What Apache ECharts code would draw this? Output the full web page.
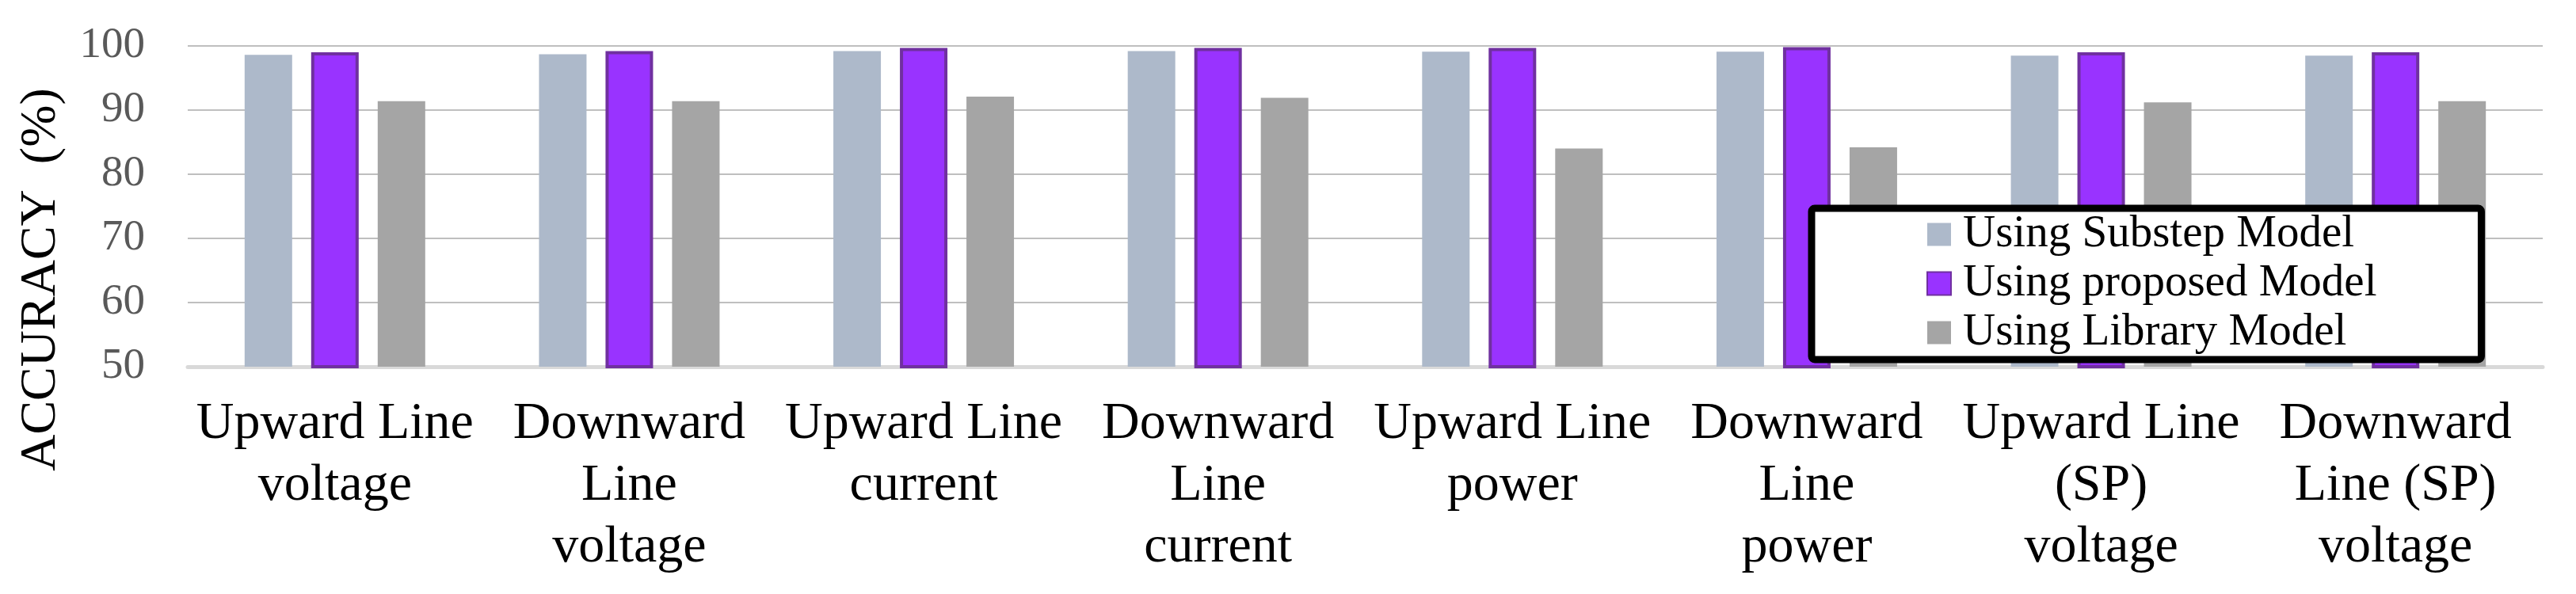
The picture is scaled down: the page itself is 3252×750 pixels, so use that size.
<!DOCTYPE html>
<html>
<head>
<meta charset="utf-8">
<title>Accuracy</title>
<script src="https://cdn.jsdelivr.net/npm/echarts@6/dist/echarts.min.js"></script>
<style>
  html, body { margin: 0; padding: 0; background: #fff; }
  #main { width: 3252px; height: 750px; }
</style>
</head>
<body>
<div id="main"></div>
<script>
// categories on the x axis
const categories = [
  'Upward Line\nvoltage',
  'Downward\nLine\nvoltage',
  'Upward Line\ncurrent',
  'Downward\nLine\ncurrent',
  'Upward Line\npower',
  'Downward\nLine\npower',
  'Upward Line\n(SP)\nvoltage',
  'Downward\nLine (SP)\nvoltage'
];

const seriesNames = ['Using Substep Model', 'Using proposed Model', 'Using Library Model'];

const substep = [98.6, 98.7, 99.2, 99.2, 99.1, 99.1, 98.5, 98.5];
const proposed = [99.0, 99.2, 99.7, 99.7, 99.7, 99.8, 99.0, 99.0];
const library = [91.4, 91.4, 92.1, 91.9, 84.0, 84.2, 91.2, 91.4];

const yTicks = [50, 60, 70, 80, 90, 100];

const serif = 'Liberation Serif';

var chartDom = document.getElementById('main');
var myChart = echarts.init(chartDom, null, { renderer: 'canvas' });
var option;

option = {
  animation: false,
  backgroundColor: '#ffffff',
  grid: {
    left: 237,
    right: 42,
    top: 58,
    bottom: 287
  },
  legend: {
    data: seriesNames,
    orient: 'vertical',
    left: 2287,
    top: 263,
    padding: [2, 132, 3, 145],
    itemGap: 0,
    itemWidth: 30,
    itemHeight: 29,
    icon: 'rect',
    backgroundColor: '#ffffff',
    borderColor: '#000000',
    borderWidth: 9,
    borderRadius: 4,
    textStyle: {
      fontFamily: serif,
      fontSize: 57,
      color: '#000',
      lineHeight: 62,
      padding: [0, 0, 0, 10]
    }
  },
  graphic: [
    {
      type: 'text',
      x: 52,
      y: 353,
      rotation: Math.PI / 2,
      style: {
        text: 'ACCURACY  (%)',
        fontFamily: serif,
        fontSize: 64,
        fill: '#000',
        textAlign: 'center',
        textVerticalAlign: 'middle'
      }
    }
  ],
  xAxis: {
    type: 'category',
    data: categories,
    axisTick: { show: false },
    axisLine: { lineStyle: { color: '#d9d9d9', width: 5 } },
    axisLabel: {
      interval: 0,
      margin: 34,
      fontFamily: serif,
      fontSize: 66,
      lineHeight: 78,
      color: '#000',
      align: 'center'
    }
  },
  yAxis: {
    type: 'value',
    min: yTicks[0],
    max: yTicks[yTicks.length - 1],
    interval: 10,
    axisLine: { show: false },
    axisTick: { show: false },
    splitLine: { lineStyle: { color: '#bfbfbf', width: 2 } },
    axisLabel: {
      margin: 54,
      fontFamily: serif,
      fontSize: 55,
      color: '#595959'
    }
  },
  series: [
    {
      name: seriesNames[0],
      type: 'bar',
      data: substep,
      barWidth: 60,
      barGap: '40%',
      itemStyle: { color: '#adb9ca' }
    },
    {
      name: seriesNames[1],
      type: 'bar',
      data: proposed,
      barWidth: 60,
      barGap: '40%',
      itemStyle: { color: '#9933ff', borderColor: '#7030a0', borderWidth: 4 }
    },
    {
      name: seriesNames[2],
      type: 'bar',
      data: library,
      barWidth: 60,
      barGap: '40%',
      itemStyle: { color: '#a5a5a5' }
    }
  ]
};
option && myChart.setOption(option);
</script>
</body>
</html>
